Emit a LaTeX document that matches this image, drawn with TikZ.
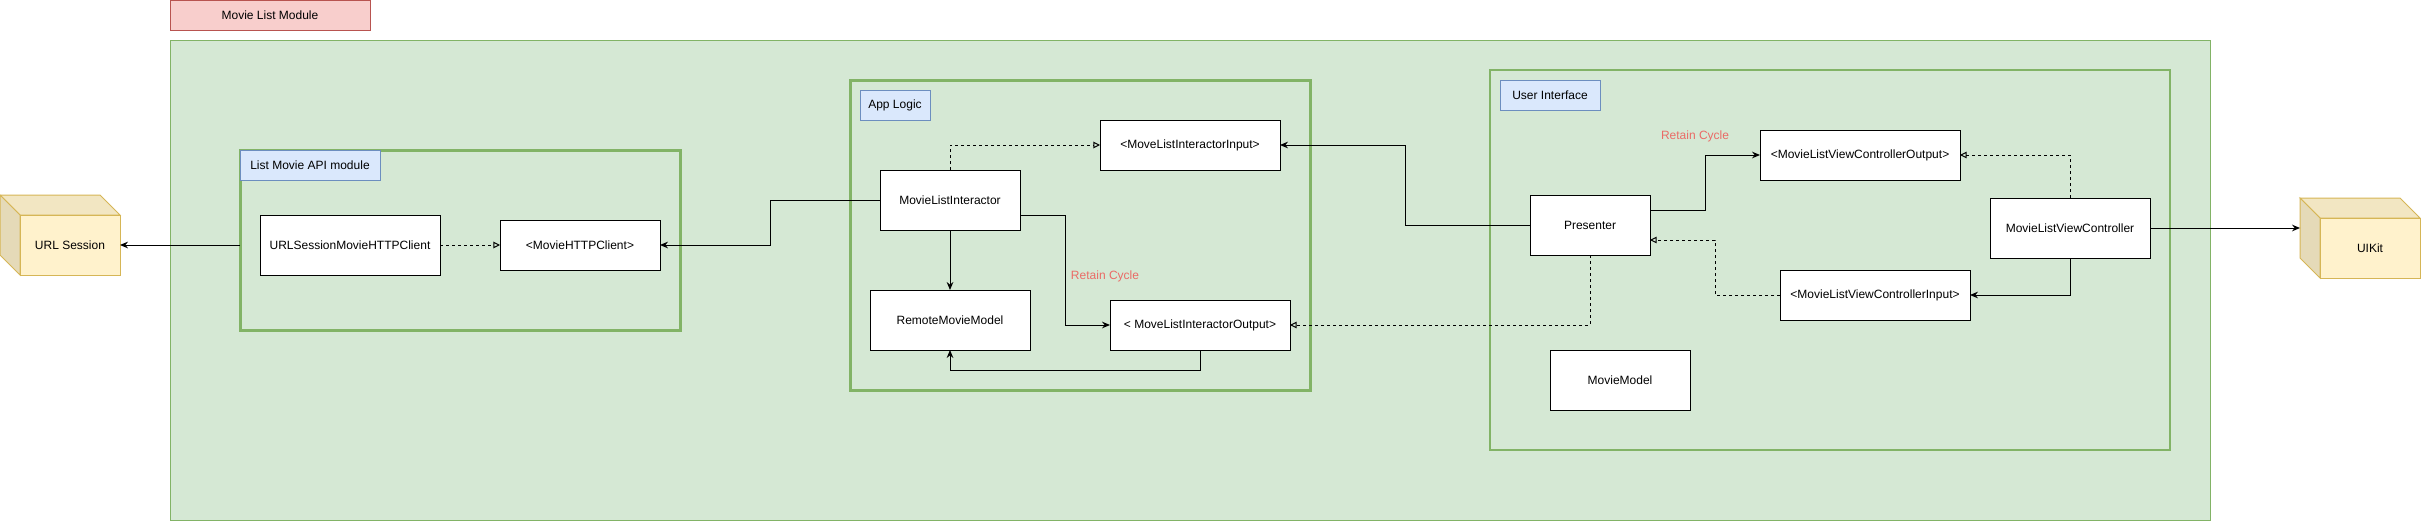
\documentclass[tikz,border=0pt]{standalone}
\usepackage{fontspec}
\setmainfont{Liberation Sans}
\usetikzlibrary{arrows.meta,calc}
\definecolor{gfill}{HTML}{D5E8D4}
\definecolor{gline}{HTML}{82B366}
\definecolor{rfill}{HTML}{F8CECC}
\definecolor{rline}{HTML}{B85450}
\definecolor{bfill}{HTML}{DAE8FC}
\definecolor{bline}{HTML}{6C8EBF}
\definecolor{yfill}{HTML}{FFF2CC}
\definecolor{yline}{HTML}{D6B656}
\definecolor{rctext}{HTML}{EA6B66}
\begin{document}
\begin{tikzpicture}[x=0.75pt,y=-0.75pt,
  font=\fontsize{9pt}{11pt}\selectfont,
  sz/.style 2 args={minimum width=#1*0.75pt, minimum height=#2*0.75pt, inner sep=0pt, outer sep=0pt},
  cls/.style={draw=black, fill=white, line width=0.75pt},
  tag/.style={draw=bline, fill=bfill, line width=0.75pt},
  area/.style={draw=gline, fill=gfill, line width=#1},
  arr/.style={-{Stealth[length=6pt,width=5pt,inset=2pt]}, line width=0.75pt},
  impl/.style={-{Triangle[open,length=5pt,width=5pt]}, line width=0.75pt, dash pattern=on 2.25pt off 2.25pt},
  note/.style={text=rctext}
]
\useasboundingbox (0,0) rectangle (2421,521);

% module title and outer area
\node[draw=rline, fill=rfill, line width=0.75pt, sz={200}{30}] (mlm) at (270,15) {Movie List Module};
\node[area=0.75pt, sz={2040}{480}] (outer) at (1190,280) {};

% List Movie API module
\node[area=2.25pt, sz={440}{180}] (api) at (460,240) {};
\node[tag, sz={140}{30}] (apilbl) at (310,165) {List Movie API module};
\node[cls, sz={180}{60}] (usc) at (350,245) {URLSessionMovieHTTPClient};
\node[cls, sz={160}{50}] (mhc) at (580,245) {<MovieHTTPClient>};

% App Logic
\node[area=2.25pt, sz={460}{310}] (app) at (1080,235) {};
\node[tag, sz={70}{30}] (applbl) at (895,105) {App Logic};
\node[cls, sz={180}{50}] (mii) at (1190,145) {<MoveListInteractorInput>};
\node[cls, sz={140}{60}] (mli) at (950,200) {MovieListInteractor};
\node[cls, sz={160}{60}] (rmm) at (950,320) {RemoteMovieModel};
\node[cls, sz={180}{50}] (mio) at (1200,325) {< MoveListInteractorOutput>};
\node[note] (rc1) at (1105,276) {Retain Cycle};

% User Interface
\node[area=1.5pt, sz={680}{380}] (ui) at (1830,260) {};
\node[tag, sz={100}{30}] (uilbl) at (1550,95) {User Interface};
\node[note] (rc2) at (1695,136) {Retain Cycle};
\node[cls, sz={200}{50}] (vco) at (1860,155) {<MovieListViewControllerOutput>};
\node[cls, sz={120}{60}] (pres) at (1590,225) {Presenter};
\node[cls, sz={160}{60}] (vc) at (2070,228) {MovieListViewController};
\node[cls, sz={190}{50}] (vci) at (1875,295) {<MovieListViewControllerInput>};
\node[cls, sz={140}{60}] (mm) at (1620,380) {MovieModel};

% URL Session cube
\filldraw[fill=yfill!95!black, draw=yline, line width=0.75pt] (0,195) -- (100,195) -- (120,215) -- (20,215) -- cycle;
\filldraw[fill=yfill!90!black, draw=yline, line width=0.75pt] (0,195) -- (20,215) -- (20,275) -- (0,255) -- cycle;
\node[draw=yline, fill=yfill, line width=0.75pt, sz={100}{60}] (urlc) at (70,245) {URL Session};

% UIKit cube
\filldraw[fill=yfill!95!black, draw=yline, line width=0.75pt] (2300,198) -- (2400,198) -- (2420,218) -- (2320,218) -- cycle;
\filldraw[fill=yfill!90!black, draw=yline, line width=0.75pt] (2300,198) -- (2320,218) -- (2320,278) -- (2300,258) -- cycle;
\node[draw=yline, fill=yfill, line width=0.75pt, sz={100}{60}] (uikc) at (2370,248) {UIKit};
\coordinate (uikl) at (2300,228);

% connectors
\draw[arr] (api.west |- urlc.east) -- (urlc.east);
\draw[impl] (usc.east) -- (mhc.west);
\draw[arr] (mli.west) -- ++(-110,0) |- (mhc.east);
\draw[impl] (mli.north) |- (mii.west);
\draw[arr] (mli.south) -- (rmm.north);
\draw[arr] ($(mli.south east)+(0,-15)$) -- ++(45,0) |- (mio.west);
\draw[arr] (mio.south) -- ++(0,20) -| (rmm.south);
\draw[arr] (pres.west) -- ++(-125,0) |- (mii.east);
\draw[arr] ($(pres.north east)+(0,15)$) -- ++(55,0) |- (vco.west);
\draw[impl] (vc.north) |- (vco.east);
\draw[arr] (vc.south) |- (vci.east);
\coordinate (presr) at ($(pres.south east)+(0,-15)$);
\draw[impl] (vci.west) -- ++(-65,0) |- (presr);
\draw[impl] (pres.south) |- (mio.east);
\draw[arr] (vc.east) -- (uikl);
\end{tikzpicture}
\end{document}
